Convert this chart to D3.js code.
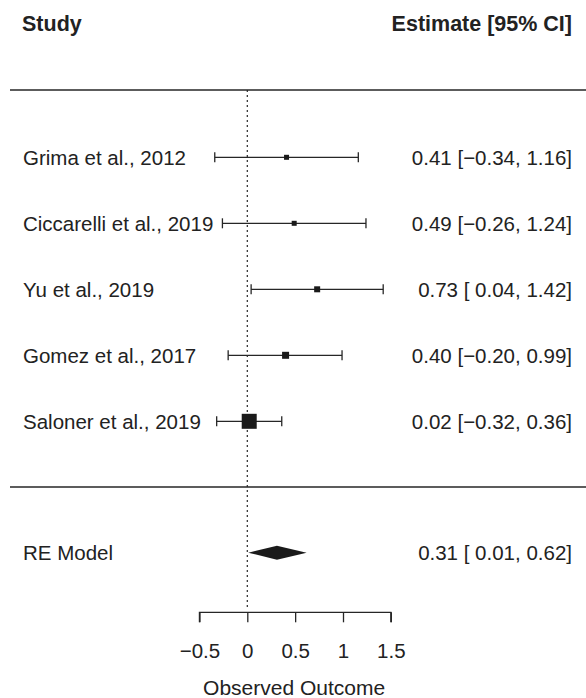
<!DOCTYPE html>
<html>
<head>
<meta charset="utf-8">
<script src="https://cdn.jsdelivr.net/npm/d3@7/dist/d3.min.js"></script>
<style>
  html, body { margin: 0; padding: 0; background: #fff; }
  svg { display: block; }
  text { font-family: "Liberation Sans", Arial, Helvetica, sans-serif; fill: #222; }
</style>
</head>
<body>
<svg id="chart" width="586" height="698"></svg>
<script>
// Study-level effects with 95% confidence intervals
const studies = ["Grima et al., 2012", "Ciccarelli et al., 2019", "Yu et al., 2019", "Gomez et al., 2017", "Saloner et al., 2019"];
const estimates = [0.41, 0.49, 0.73, 0.40, 0.02];
const lower = [-0.34, -0.26, 0.04, -0.20, -0.32];
const upper = [1.16, 1.24, 1.42, 0.99, 0.36];
// relative weights set the marker size
const weights = [5, 5, 6, 7, 15];

// Pooled random-effects estimate
const pooledLabel = "RE Model";
const pooled = { est: 0.31, lo: 0.01, hi: 0.62 };

const xTicks = [-0.5, 0, 0.5, 1, 1.5];
const xTitle = "Observed Outcome";

const svg = d3.select("#chart");
const W = 586;
const fs = 20.5;

const x = d3.scaleLinear().domain([0, 1]).range([247.3, 343]);
const rowY = d3.scaleLinear().domain([0, 4]).range([157.3, 421.3]);
const pooledY = 552.7;
const ink = "#262626";
const base = 7.3;

const fmt = v => v < 0 ? "\u2212" + Math.abs(v).toFixed(2) : " " + v.toFixed(2);
const ciText = (e, l, u) => e.toFixed(2) + " [" + fmt(l) + ", " + u.toFixed(2) + "]";

// header
svg.append("text").attr("x", 22).attr("y", 31).attr("font-size", 21.5).attr("font-weight", "bold").text("Study");
svg.append("text").attr("x", 572).attr("y", 31).attr("font-size", 21.5).attr("font-weight", "bold")
  .attr("text-anchor", "end").text("Estimate [95% CI]");

// separators
[90, 487].forEach(y => {
  svg.append("line").attr("x1", 10).attr("x2", W).attr("y1", y).attr("y2", y)
    .attr("stroke", ink).attr("stroke-width", 1.4);
});

// reference line at zero
svg.append("line").attr("x1", x(0)).attr("x2", x(0)).attr("y1", 90).attr("y2", 607)
  .attr("stroke", ink).attr("stroke-width", 1.2).attr("stroke-dasharray", "2,3");

// study rows
const rows = svg.append("g").selectAll("g").data(studies).join("g");
rows.append("text").attr("x", 23).attr("y", (d, i) => rowY(i) + base).attr("font-size", fs).text(d => d);
rows.append("line")
  .attr("x1", (d, i) => x(lower[i])).attr("x2", (d, i) => x(upper[i]))
  .attr("y1", (d, i) => rowY(i)).attr("y2", (d, i) => rowY(i))
  .attr("stroke", ink).attr("stroke-width", 1.3);
[lower, upper].forEach(arr => {
  rows.append("line")
    .attr("x1", (d, i) => x(arr[i])).attr("x2", (d, i) => x(arr[i]))
    .attr("y1", (d, i) => rowY(i) - 5).attr("y2", (d, i) => rowY(i) + 5)
    .attr("stroke", ink).attr("stroke-width", 1.3);
});
rows.append("rect")
  .attr("x", (d, i) => x(estimates[i]) - weights[i] / 2)
  .attr("y", (d, i) => rowY(i) - weights[i] / 2)
  .attr("width", (d, i) => weights[i]).attr("height", (d, i) => weights[i])
  .attr("fill", "#1a1a1a");
rows.append("text").attr("x", 572).attr("y", (d, i) => rowY(i) + base).attr("font-size", fs)
  .attr("text-anchor", "end").attr("xml:space", "preserve").style("white-space", "pre")
  .text((d, i) => ciText(estimates[i], lower[i], upper[i]));

// pooled estimate
svg.append("text").attr("x", 23).attr("y", pooledY + base).attr("font-size", fs).text(pooledLabel);
svg.append("path")
  .attr("d", d3.line()([[x(pooled.lo), pooledY], [x(pooled.est), pooledY - 7], [x(pooled.hi), pooledY], [x(pooled.est), pooledY + 7]]) + "Z")
  .attr("fill", "#1a1a1a");
svg.append("text").attr("x", 572).attr("y", pooledY + base).attr("font-size", fs)
  .attr("text-anchor", "end").attr("xml:space", "preserve").style("white-space", "pre")
  .text(ciText(pooled.est, pooled.lo, pooled.hi));

// x axis
const axis = svg.append("g").attr("transform", "translate(0,612.3)")
  .call(d3.axisBottom(x).tickValues(xTicks).tickSize(10).tickPadding(21)
    .tickFormat(d => d === 0 ? "0" : d3.format("")(d).replace("-", "\u2212")));
axis.select(".domain").attr("d", `M${x(-0.5)},10V0H${x(1.5)}V10`).attr("stroke", ink).attr("stroke-width", 1.3);
axis.selectAll(".tick line").attr("stroke", ink).attr("stroke-width", 1.3);
axis.selectAll(".tick text").attr("font-size", fs).attr("font-family", "Liberation Sans, Arial, sans-serif").attr("fill", "#222");

svg.append("text").attr("x", x(0.5) - 1).attr("y", 695).attr("font-size", 21).attr("text-anchor", "middle").text(xTitle);
</script>
</body>
</html>
